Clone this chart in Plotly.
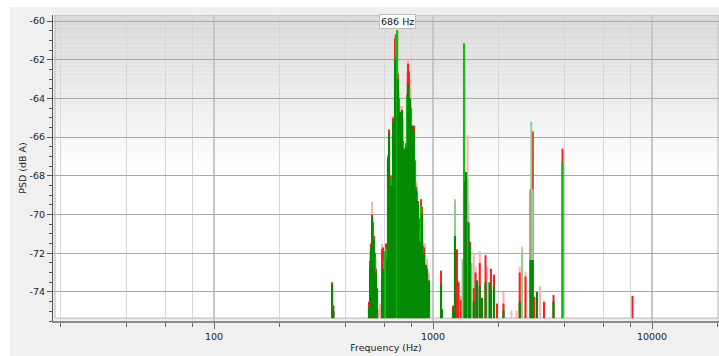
import numpy as np
import plotly.graph_objects as go

# ---------------- spectrum data (frequency in Hz, level in dB A) ----------------
# light "max hold" level
max_hz = [516, 527, 561, 573, 585, 623, 657, 671, 699, 707, 722, 730, 761, 769, 785, 794,
          836, 845, 900, 919, 939, 959, 1260, 1307, 1342, 1438, 1453, 1535, 1564, 1635,
          1765, 2098, 2283, 2406, 2489, 2549, 2645, 3081]
max_db = [-71.9, -69.35, -74.9, -74.6, -71.5, -66.9, -64.9, -60.7, -63.6, -64.4, -64.4, -65.0,
          -62.6, -61.9, -63.0, -64.3, -68.3, -68.4, -71.4, -71.5, -72.3, -73.0, -69.2, -73.4,
          -74.2, -65.9, -69.4, -72.0, -72.7, -71.9, -72.7, -74.0, -74.97, -74.97, -72.7,
          -71.66, -72.95, -73.7]

# red "hold" level
hold_hz = [346, 351, 510, 516, 521, 527, 532, 538, 544, 549, 585, 591, 597, 610, 623, 630,
           636, 643, 657, 664, 671, 678, 692, 745, 753, 769, 777, 810, 819, 863, 882, 891,
           910, 1088, 1234, 1287, 1307, 1342, 1400, 1476, 1535, 1564, 1635, 1737, 1830,
           1840, 1899, 1960, 2098, 2489, 2549, 2645, 2787, 2855, 2900, 3213, 3550, 3902, 8147]
hold_db = [-73.5, -74.7, -74.5, -72.4, -71.5, -70.0, -70.4, -71.1, -72.0, -72.8, -71.8, -71.7,
           -72.0, -71.5, -67.0, -65.6, -68.0, -68.3, -65.0, -65.1, -60.9, -60.7, -62.7, -66.7,
           -66.3, -62.2, -62.6, -65.9, -65.4, -70.2, -69.2, -69.6, -71.7, -72.9, -74.7, -71.8,
           -73.5, -74.4, -68.0, -71.4, -73.8, -73.0, -72.5, -72.1, -74.4, -72.8, -73.1, -74.6,
           -74.6, -73.0, -73.4, -73.2, -68.7, -65.7, -74.25, -74.5, -74.16, -66.6, -74.2]

# pale green level
pale_hz = [1260, 1364, 1438, 1499, 2549, 2810, 2855]
pale_db = [-69.3, -72.3, -68.2, -72.5, -71.9, -65.2, -68.7]

# bright green level
bright_hz = [532, 544, 597, 604, 610, 636, 650, 664, 678, 686, 699, 714, 730, 745, 761, 777,
             794, 810, 828, 845, 863, 882, 900, 919, 949, 1386, 3902]
bright_db = [-70.6, -72.2, -72.4, -71.9, -71.7, -68.2, -68.0, -65.4, -60.9, -60.47, -64.0,
             -65.3, -66.2, -66.9, -63.8, -63.5, -64.5, -66.2, -67.2, -68.8, -70.7, -69.5,
             -71.6, -73.0, -73.5, -61.15, -67.3]

# dark green level
dark_hz = [346, 351, 510, 516, 521, 527, 538, 549, 555, 585, 591, 617, 623, 630, 643, 657,
           671, 692, 707, 722, 737, 753, 769, 785, 802, 819, 836, 854, 872, 891, 910, 929,
           939, 959, 1088, 1099, 1234, 1260, 1400, 1415, 1453, 1476, 1535, 1590, 1635, 1674,
           1737, 1811, 1840, 1899, 2098, 2489, 2787, 2810, 2855, 2983, 3550]
dark_db = [-73.6, -75.0, -74.8, -72.8, -71.7, -70.1, -71.3, -73.0, -73.8, -73.3, -72.8, -72.3,
           -67.1, -65.8, -68.5, -65.2, -62.0, -63.0, -64.7, -64.6, -66.6, -66.5, -63.2, -64.0,
           -65.4, -65.7, -68.6, -69.3, -71.4, -70.0, -72.0, -72.6, -72.8, -73.4, -73.6, -74.9,
           -74.9, -71.1, -68.3, -67.8, -70.4, -71.6, -74.5, -73.4, -73.7, -74.3, -73.5, -73.5,
           -74.0, -73.7, -74.95, -74.5, -72.35, -72.35, -72.35, -74.0, -74.5]

y_ticks = [-74, -72, -70, -68, -66, -64, -62, -60]
x_major = [100, 1000, 10000]
x_minor = [20, 40, 60, 80, 200, 400, 600, 800, 2000, 4000, 6000, 8000, 20000]

# ---------------- geometry / styling ----------------
W, H = 719, 356
ML, MR, MT, MB = 53, 0, 15, 35
PW, PH = W - ML - MR, H - MT - MB
Y_TOP, Y_BOT = -59.69, -75.50
FLOOR = -75.35          # bottom of the white plotting box
X_RANGE = [1.2648, 4.3059]
FONT = "DejaVu Sans"


def px_x(p):
    return (p - ML) / PW


def px_y(p):
    return (H - MB - p) / PH


def stems(freqs, vals):
    xs, ys = [], []
    for f, v in zip(freqs, vals):
        xs += [f, f, None]
        ys += [FLOOR, v, None]
    return xs, ys


fig = go.Figure()
series = [
    (max_hz, max_db, "#ffb0b0", 2.0),
    (hold_hz, hold_db, "#ff1c1c", 2.0),
    (pale_hz, pale_db, "#8ccf8c", 2.0),
    (bright_hz, bright_db, "#0cbf0c", 2.2),
    (dark_hz, dark_db, "#058a05", 2.2),
]
for fx, fy, col, lw in series:
    xs, ys = stems(fx, fy)
    fig.add_trace(go.Scatter(x=xs, y=ys, mode="lines", line=dict(color=col, width=lw),
                             hoverinfo="skip", showlegend=False))

shapes = []
# white strips around the grey panel
shapes.append(dict(type="rect", xref="paper", yref="paper", x0=px_x(0), x1=px_x(10),
                   y0=px_y(H), y1=px_y(0), fillcolor="white", line_width=0, layer="below"))
shapes.append(dict(type="rect", xref="paper", yref="paper", x0=px_x(0), x1=px_x(W),
                   y0=px_y(7), y1=px_y(0), fillcolor="white", line_width=0, layer="below"))
# white plotting box
shapes.append(dict(type="rect", xref="paper", yref="y", x0=px_x(55), x1=1.0,
                   y0=FLOOR, y1=Y_TOP, fillcolor="white", line_width=0, layer="below"))
# soft grey gradient at the top of the box
n_band = 40
g_top, g_bot = -59.69, -67.6
for i in range(n_band):
    t0 = g_top + (g_bot - g_top) * i / n_band
    t1 = g_top + (g_bot - g_top) * (i + 1) / n_band
    c = int(216 + (255 - 216) * (i + 0.5) / n_band)
    shapes.append(dict(type="rect", xref="paper", yref="y", x0=px_x(55), x1=1.0,
                       y0=t1, y1=t0, fillcolor=f"rgb({c},{c},{c})", line_width=0,
                       layer="below"))
# box outline
shapes.append(dict(type="rect", xref="paper", yref="y", x0=px_x(55), x1=1.0,
                   y0=FLOOR, y1=Y_TOP, fillcolor="rgba(0,0,0,0)",
                   line=dict(color="#b8b8b8", width=1), layer="below"))

peak_i = int(np.argmax(bright_db))
peak_f, peak_v = bright_hz[peak_i], bright_db[peak_i]

fig.update_layout(
    width=W, height=H,
    template="none",
    margin=dict(l=ML, r=MR, t=MT, b=MB, pad=0),
    paper_bgcolor="#f0f0f0",
    plot_bgcolor="rgba(0,0,0,0)",
    font=dict(family=FONT, size=9.5, color="#222222"),
    showlegend=False,
    shapes=shapes,
    xaxis=dict(
        type="log", range=X_RANGE, automargin=False,
        tickmode="array", tickvals=x_major, ticktext=[str(v) for v in x_major],
        ticks="outside", ticklen=6, tickwidth=1, tickcolor="#6a6a6a",
        showgrid=True, gridcolor="#c6c6c6", gridwidth=1.5,
        showline=True, linecolor="#8a8a8a", linewidth=2,
        zeroline=False,
        tickfont=dict(family=FONT, size=9.5, color="#222222"),
        minor=dict(tickmode="array", tickvals=x_minor, ticks="outside", ticklen=4,
                   tickcolor="#6a6a6a", showgrid=True, gridcolor="#d6d6d6", gridwidth=1),
        title=dict(text="Frequency (Hz)", standoff=2,
                   font=dict(family=FONT, size=9.5, color="#222222")),
    ),
    yaxis=dict(
        range=[Y_BOT, Y_TOP], automargin=False,
        tickmode="array", tickvals=y_ticks, ticktext=[str(v) for v in y_ticks],
        ticks="outside", ticklen=5, tickwidth=1, tickcolor="#555555",
        showgrid=True, gridcolor="#a9a9a9", gridwidth=1,
        showline=True, linecolor="#555555", linewidth=1,
        zeroline=False,
        tickfont=dict(family=FONT, size=9.5, color="#222222"),
        minor=dict(dtick=0.5, tick0=-60, ticks="outside", ticklen=3, tickcolor="#555555",
                   showgrid=False),
        title=dict(text="PSD (dB A)", standoff=1,
                   font=dict(family=FONT, size=9.5, color="#222222")),
    ),
    annotations=[dict(
        x=np.log10(peak_f), y=peak_v, xref="x", yref="y",
        text=f"{peak_f:.0f} Hz", showarrow=False, yanchor="bottom", yshift=1,
        bgcolor="white", bordercolor="#bcbcbc", borderwidth=1, borderpad=1,
        font=dict(family=FONT, size=9.5, color="#111111"),
    )],
)

fig.write_html("out.html")
